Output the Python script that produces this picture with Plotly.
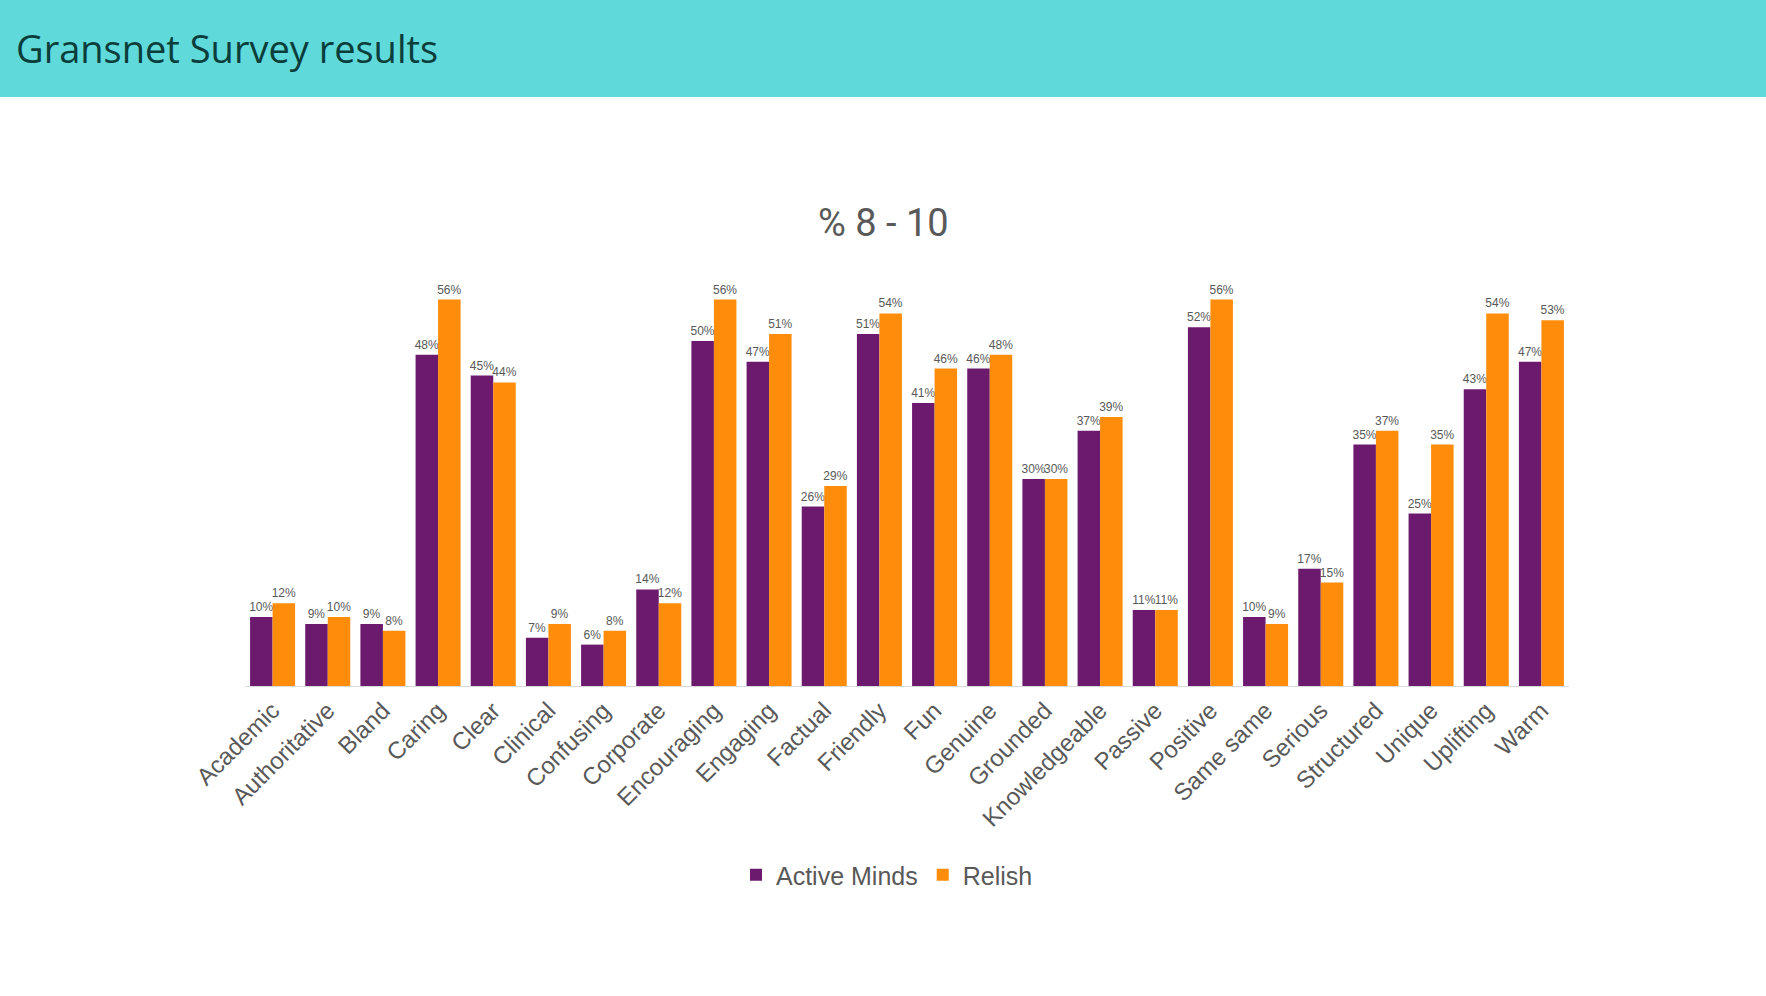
import plotly.graph_objects as go

categories = ["Academic", "Authoritative", "Bland", "Caring", "Clear", "Clinical", "Confusing",
              "Corporate", "Encouraging", "Engaging", "Factual", "Friendly", "Fun", "Genuine",
              "Grounded", "Knowledgeable", "Passive", "Positive", "Same same", "Serious",
              "Structured", "Unique", "Uplifting", "Warm"]
active_minds = [10, 9, 9, 48, 45, 7, 6, 14, 50, 47, 26, 51, 41, 46, 30, 37, 11, 52, 10, 17, 35, 25, 43, 47]
relish = [12, 10, 8, 56, 44, 9, 8, 12, 56, 51, 29, 54, 46, 48, 30, 39, 11, 56, 9, 15, 37, 35, 54, 53]

W, H = 1766, 996
PURPLE = "#6C1A6E"
ORANGE = "#FF8C0A"
GREY = "#595959"

fig = go.Figure()
for name, vals, col in [("Active Minds", active_minds, PURPLE), ("Relish", relish, ORANGE)]:
    fig.add_trace(go.Bar(
        x=categories, y=[v / 100 for v in vals], name=name,
        marker=dict(color=col, line=dict(width=0)),
        text=[f"{v}%" for v in vals], textposition="outside",
        textfont=dict(family="Liberation Sans", size=12, color=GREY),
        constraintext="none", cliponaxis=False,
    ))

fig.update_layout(
    width=W, height=H,
    margin=dict(l=0, r=0, t=0, b=0),
    paper_bgcolor="white", plot_bgcolor="white",
    barmode="group", bargap=0.184, bargroupgap=0,
    showlegend=True,
    legend=dict(orientation="h", x=887 / W, xanchor="center", y=1 - 875 / H, yanchor="middle",
                font=dict(family="Liberation Sans", size=25, color=GREY),
                itemwidth=30, traceorder="normal"),
    xaxis=dict(domain=[245 / W, 1569 / W], tickangle=-45, showgrid=False,
               showline=True, linecolor="#D9D9D9", linewidth=1, ticks="",
               tickfont=dict(family="Liberation Sans", size=24, color=GREY), automargin=False),
    yaxis=dict(domain=[1 - 686 / H, 1 - 272 / H], range=[0, 0.6], visible=False,
               showgrid=False, zeroline=False, automargin=False),
    shapes=[dict(type="rect", xref="paper", yref="paper", x0=0, x1=1, y0=1 - 97 / H, y1=1,
                 fillcolor="#5FD9DA", line=dict(width=0), layer="below")],
    annotations=[
        dict(text="Gransnet Survey results", xref="paper", yref="paper", x=14 / W, y=1 - 48 / H,
             xanchor="left", yanchor="middle", showarrow=False,
             font=dict(family="Open Sans", size=38, color="#0B3D3A")),
        dict(text="% 8 - 10", xref="paper", yref="paper", x=884 / W, y=1 - 223 / H,
             xanchor="center", yanchor="middle", showarrow=False,
             font=dict(family="Roboto", size=38, color=GREY)),
    ],
)

fig.write_html("out.html", config={"displayModeBar": False},
               post_script="document.body.style.margin='0';document.body.style.overflow='hidden';")
